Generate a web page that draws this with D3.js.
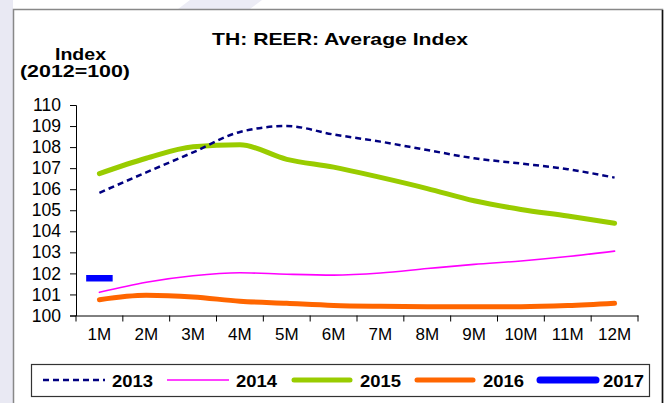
<!DOCTYPE html>
<meta charset="utf-8">
<script src="https://d3js.org/d3.v7.min.js"></script>
<style>
  body { margin: 0; background: #fff; }
  text { font-family: "Liberation Sans", Arial, sans-serif; }
</style>
<body>
<div id="chart"></div>
<script>
  // data
  var months = ["1M","2M","3M","4M","5M","6M","7M","8M","9M","10M","11M","12M"];
  var y2013 = [105.83, 106.8, 107.75, 108.72, 109.0, 108.6, 108.26, 107.86, 107.47, 107.22, 106.95, 106.55];
  var y2014 = [101.1, 101.58, 101.89, 102.03, 101.96, 101.92, 102.02, 102.23, 102.43, 102.59, 102.8, 103.06];
  var y2015 = [106.74, 107.47, 108.02, 108.11, 107.42, 107.05, 106.56, 106.03, 105.45, 105.04, 104.73, 104.38];
  var y2016 = [100.75, 100.96, 100.88, 100.68, 100.58, 100.48, 100.44, 100.42, 100.42, 100.42, 100.47, 100.58];
  var y2017 = [101.77];
  var yTicks = [100,101,102,103,104,105,106,107,108,109,110];
  var years = ["2013","2014","2015","2016","2017"];

  var width = 667, height = 403;

  var svg = d3.select("#chart").append("svg")
    .attr("width", width)
    .attr("height", height);

  // light watermark outside the frame
  svg.append("rect").attr("x", 0).attr("y", 0).attr("width", 13).attr("height", height).attr("fill", "#e9e9f3");
  svg.append("path").attr("d", "M190,0 L262,0 L250,9 L178,9 Z").attr("fill", "#ececf5");

  // frame
  svg.append("rect")
    .attr("x", 13.5).attr("y", 9.5).attr("width", 649).attr("height", 400)
    .attr("fill", "#fff").attr("stroke", "#888").attr("stroke-width", 1.5);
  svg.append("line").attr("x1", 662.5).attr("x2", 662.5).attr("y1", 10).attr("y2", height)
    .attr("stroke", "#111").attr("stroke-width", 1.5);

  // titles (the original is stretched a bit sideways)
  svg.append("text").attr("x", 212).attr("y", 45)
    .attr("textLength", 256).attr("lengthAdjust", "spacingAndGlyphs")
    .style("font-size", "17px").style("font-weight", "bold").text("TH: REER: Average Index");
  svg.append("text").attr("x", 55).attr("y", 60)
    .attr("textLength", 51).attr("lengthAdjust", "spacingAndGlyphs")
    .style("font-size", "16.5px").style("font-weight", "bold").text("Index");
  svg.append("text").attr("x", 20).attr("y", 77)
    .attr("textLength", 110).attr("lengthAdjust", "spacingAndGlyphs")
    .style("font-size", "16.5px").style("font-weight", "bold").text("(2012=100)");

  var x = d3.scaleBand().domain(months).range([76, 638]);
  var y = d3.scaleLinear().domain([100, 110]).range([315.5, 105]);

  // y axis
  var yAxis = svg.append("g")
    .attr("transform", "translate(76,0)")
    .call(d3.axisLeft(y).tickValues(yTicks).tickSize(6).tickSizeOuter(6).tickPadding(9));
  yAxis.selectAll("text").style("font-size", "17.5px").attr("fill", "#000");
  yAxis.selectAll("line, path").attr("stroke", "#000");

  // x axis: labels centred on categories, ticks on boundaries
  var xAxis = svg.append("g")
    .attr("transform", "translate(0,315.5)")
    .call(d3.axisBottom(x).tickSize(0).tickPadding(12));
  xAxis.selectAll("text").style("font-size", "17px").attr("fill", "#000");
  xAxis.select(".domain").attr("stroke", "#000");
  var bounds = months.map(function(m) { return x(m); }).concat([x.range()[1]]);
  xAxis.selectAll(".bt").data(bounds).enter().append("line")
    .attr("class", "bt")
    .attr("x1", function(d) { return d; }).attr("x2", function(d) { return d; })
    .attr("y1", 0).attr("y2", 6).attr("stroke", "#000");

  var styles = {
    "2013": { color: "#000080", width: 2.5, dash: "6,4" },
    "2014": { color: "#ff00ff", width: 1.6, dash: null },
    "2015": { color: "#99cc00", width: 5, dash: null },
    "2016": { color: "#ff6600", width: 5, dash: null },
    "2017": { color: "#0000ff", width: 7, dash: null }
  };
  var series = { "2013": y2013, "2014": y2014, "2015": y2015, "2016": y2016, "2017": y2017 };

  var line = d3.line()
    .x(function(d, i) { return x(months[i]) + x.bandwidth() / 2; })
    .y(function(d) { return y(d); })
    .curve(d3.curveMonotoneX);

  // draw order: 2013 dashes end up on top
  var order = ["2014", "2016", "2015", "2013"];
  order.forEach(function(k) {
    svg.append("path")
      .datum(series[k])
      .attr("d", line)
      .attr("fill", "none")
      .attr("stroke", styles[k].color)
      .attr("stroke-width", styles[k].width)
      .attr("stroke-dasharray", styles[k].dash)
      .attr("stroke-linecap", k == "2013" ? "butt" : "round");
  });

  // 2017 has only one point: drawn as a dash marker
  svg.selectAll(".m2017").data(y2017).enter().append("line")
    .attr("class", "m2017")
    .attr("x1", function(d, i) { return x(months[i]) + x.bandwidth() / 2 - 10; })
    .attr("x2", function(d, i) { return x(months[i]) + x.bandwidth() / 2 + 10; })
    .attr("y1", function(d) { return y(d); }).attr("y2", function(d) { return y(d); })
    .attr("stroke", styles["2017"].color).attr("stroke-width", 6.5).attr("stroke-linecap", "square");

  // legend
  svg.append("rect").attr("x", 31.5).attr("y", 364.5).attr("width", 618).attr("height", 32)
    .attr("fill", "#fff").attr("stroke", "#333").attr("stroke-width", 1.2);
  var legX = [43, 167, 291, 414, 537];
  var leg = svg.selectAll(".legend").data(years).enter().append("g")
    .attr("class", "legend")
    .attr("transform", function(d, i) { return "translate(" + legX[i] + ",0)"; });
  leg.append("line")
    .attr("x1", function(d) { return styles[d].width > 4 ? 3 : 0; })
    .attr("x2", function(d) { return styles[d].width > 4 ? 59 : 62; })
    .attr("y1", 380).attr("y2", 380)
    .attr("stroke", function(d) { return styles[d].color; })
    .attr("stroke-width", function(d) { return styles[d].width; })
    .attr("stroke-dasharray", function(d) { return styles[d].dash; })
    .attr("stroke-linecap", function(d) { return styles[d].width > 4 ? "round" : "butt"; });
  leg.append("text")
    .attr("x", function(d, i) { return i == 4 ? 66 : 69; })
    .attr("y", 386.5)
    .attr("textLength", 41).attr("lengthAdjust", "spacingAndGlyphs")
    .style("font-size", "17px").style("font-weight", "bold")
    .text(function(d) { return d; });
</script>
</body>
</html>
